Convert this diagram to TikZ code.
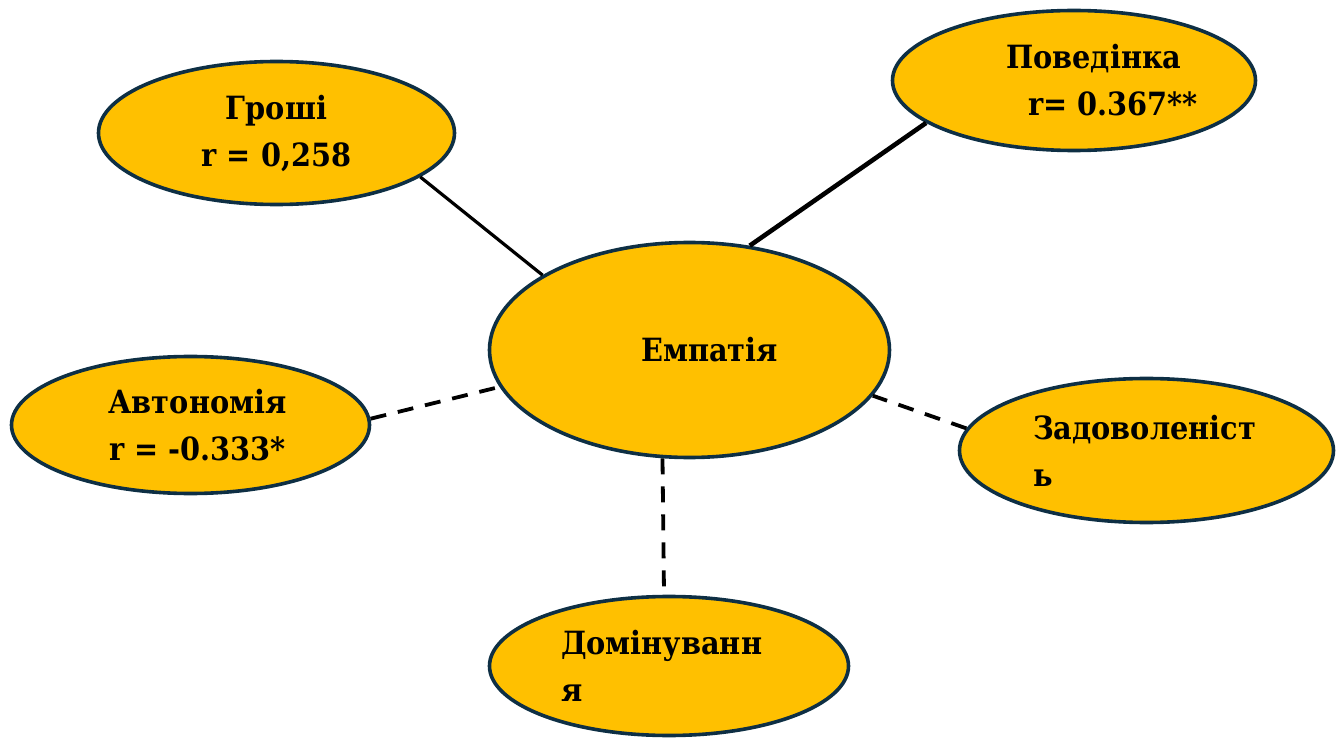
\documentclass[tikz,border=0pt]{standalone}
\usepackage{fontspec}
\setmainfont{DejaVu Serif Condensed}
\usepackage{tikz}
\usetikzlibrary{shapes.geometric}
\definecolor{gold}{HTML}{FFC000}
\definecolor{rim}{HTML}{0E2F44}
\tikzstyle{bubble} = [ellipse, draw=rim, fill=gold, line width=1.8pt,
    inner sep=0pt, font=\fontsize{16}{23.5}\selectfont\bfseries]
\tikzstyle{line} = [draw, line width=1.6pt]
\tikzstyle{weak} = [draw, line width=1.9pt, dash pattern=on 8pt off 6pt]

\begin{document}
\begin{tikzpicture}[x=0.5pt, y=-0.5pt]
    \useasboundingbox (0,0) rectangle (1341,738);
    % Place nodes

    \node [bubble, minimum width=200pt, minimum height=107.5pt] (empathy) at (689.5,350) {\hspace{20pt}Емпатія};
    \node [bubble, minimum width=178pt, minimum height=71.5pt, align=center] (money) at (276.5,133) {Гроші\\r = 0,258};
    \node [bubble, minimum width=181.5pt, minimum height=70pt, align=left] (behaviour) at (1074,80.5) {\hspace{28pt}Поведінка\\\hspace{39pt}r= 0.367**};
    \node [bubble, minimum width=179pt, minimum height=68.5pt, align=center] (autonomy) at (190.5,425) {\hspace{7pt}Автономія\\\hspace{7pt}r = -0.333*};
    \node [bubble, minimum width=187pt, minimum height=72pt, text width=113.5pt, align=left] (satisfaction) at (1146.5,450.5) {Задоволеніст\\ь};
    \node [bubble, minimum width=179.5pt, minimum height=69.5pt, text width=108pt, align=left] (dominance) at (669,666) {Домінуванн\\я};

    \path [line] (money.-17) -- (empathy.153);
    \path [line, line width=2.3pt] (behaviour.-164) -- (empathy.60);
    \path [weak] (autonomy.2) -- (empathy.-169);
    \path [weak] (satisfaction.173.5) -- (empathy.-14.4);
    \path [weak, shorten >=3.5pt] (empathy.-104) -- (dominance.94);
\end{tikzpicture}
\end{document}
